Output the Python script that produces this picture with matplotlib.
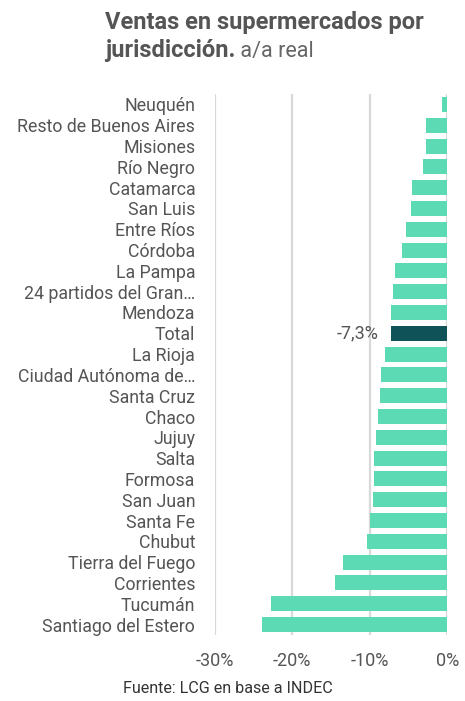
from matplotlib import pyplot as plt

plt.rcParams['font.family'] = ['Roboto', 'DejaVu Sans']

# categorias, de arriba hacia abajo
provincias = ["Neuquén", "Resto de Buenos Aires", "Misiones", "Río Negro",
              "Catamarca", "San Luis", "Entre Ríos", "Córdoba", "La Pampa",
              "24 partidos del Gran…", "Mendoza", "Total", "La Rioja",
              "Ciudad Autónoma de…", "Santa Cruz", "Chaco", "Jujuy", "Salta",
              "Formosa", "San Juan", "Santa Fe", "Chubut", "Tierra del Fuego",
              "Corrientes", "Tucumán", "Santiago del Estero"]
variacion = [-0.7, -2.7, -2.8, -3.2, -4.6, -4.7, -5.3, -5.8, -6.8, -7.0,
             -7.2, -7.3, -8.0, -8.5, -8.7, -9.0, -9.2, -9.4, -9.5, -9.6,
             -10.0, -10.3, -13.5, -14.5, -22.8, -23.9]
ticks_x = [-30, -20, -10, 0]
tick_labels = ["-30%", "-20%", "-10%", "0%"]

verde = "#5BDAB4"
oscuro = "#0F5257"
gris_texto = "#555555"

fig = plt.figure(figsize=(4.65, 7.01), dpi=100)
ax = fig.add_axes([0.4617, 0.0942, 0.5003, 0.7717])

n = len(provincias)
pos = [n - 1 - i for i in range(n)]
colores = [oscuro if p == "Total" else verde for p in provincias]
ax.barh(pos, variacion, height=0.72, color=colores, zorder=3)

# etiqueta del total
i_total = provincias.index("Total")
etiqueta = ("%.1f%%" % variacion[i_total]).replace(".", ",")
ax.annotate(etiqueta, xy=(variacion[i_total], pos[i_total]), xytext=(-9, 0),
            textcoords="offset points", ha="right", va="center",
            fontsize=13, color=gris_texto)

ax.set_xlim(-30, 0)
ax.set_ylim(-0.5, n - 0.5)
ax.set_xticks(ticks_x)
ax.set_xticklabels(tick_labels)
ax.set_yticks(pos)
ax.set_yticklabels(provincias)
ax.tick_params(axis="y", length=0, pad=14, labelsize=12.8, labelcolor=gris_texto)
ax.tick_params(axis="x", length=0, pad=12, labelsize=13, labelcolor=gris_texto)
ax.grid(axis="x", color="#d9d9d9", linewidth=1.6, zorder=0)
ax.grid(axis="y", visible=False)
for s in ax.spines.values():
    s.set_visible(False)

# titulo en dos partes (negrita + normal)
fig.text(0.226, 0.959, "Ventas en supermercados por", fontsize=17,
         fontweight="bold", color=gris_texto, va="baseline")
t2 = fig.text(0.226, 0.919, "jurisdicción.", fontsize=17,
              fontweight="bold", color=gris_texto, va="baseline")
fig.canvas.draw()
bb = t2.get_window_extent()
x2 = bb.x1 / fig.bbox.width
fig.text(x2, 0.919, " a/a real", fontsize=15.5, color="#666666", va="baseline")

fig.text(0.264, 0.011, "Fuente: LCG en base a INDEC", fontsize=11.6,
         color="#333333", va="baseline")

fig.savefig("out.png", dpi=100)
